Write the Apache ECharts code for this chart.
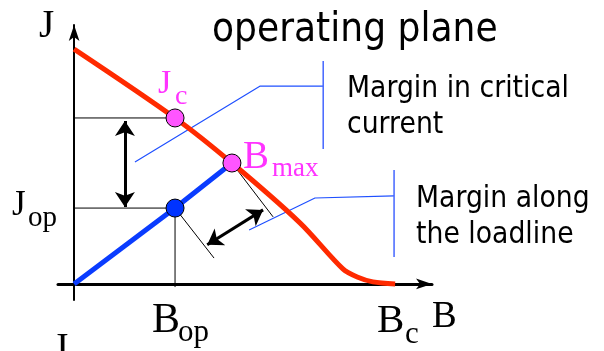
<!DOCTYPE html>
<html lang="en">
<head>
<meta charset="UTF-8">
<title>operating plane</title>
<script src="https://cdn.jsdelivr.net/npm/echarts@6/dist/echarts.min.js"></script>
<style>
  html, body { margin: 0; padding: 0; background: #fff; }
  #main { width: 604px; height: 351px; }
</style>
</head>
<body>
<div id="main"></div>
<script>
// values, B and J in arbitrary units (axis ~0..100)
var criticalCurve = [[0, 90.7], [28.2, 64.1], [44.1, 46.7], [63.1, 23.6],
                     [75.1, 5.8], [79.1, 2.7], [83.5, 0.8], [89.7, 0]];
var loadLine = [[0, 0], [28.2, 29.3], [44.1, 46.7]];
var pointJc = [28.2, 64.1];
var pointBmax = [44.1, 46.7];
var pointOp = [28.2, 29.3];

// guide lines
var jcLevel = [[0, 64.1], [28.2, 64.1]];
var opLevel = [[0, 29.3], [28.2, 29.3]];
var opDrop = [[28.2, 29.3], [28.2, -1.2]];
var bmaxPerp = [[44.1, 46.7], [55.6, 25.9]];
var opPerp = [[28.2, 29.3], [39.1, 10.0]];

// double arrows
var currentMargin = [[14.2, 62.9], [14.2, 29.7]];
var loadlineMargin = [[37.2, 15.1], [52.8, 28.6]];

// callouts
var callout1 = [[17.0, 47.1], [52.0, 76.4], [69.6, 76.4]];
var bracket1 = [[69.6, 86.1], [69.6, 52.1]];
var callout2 = [[48.9, 20.8], [67.3, 33.2], [89.4, 34.0]];
var bracket2 = [[89.4, 44.0], [89.4, 10.4]];

var RED = '#ff2a00', BLUE = '#0a3cff', THIN_BLUE = '#1f50ff', MAGENTA = '#ff33ff';
var SERIF = '"Liberation Serif", "DejaVu Serif", serif';
var SANS = '"DejaVu Sans", sans-serif';

var chart = echarts.init(document.getElementById('main'));

function poly(data, color, width, z) {
  return {
    type: 'line', data: data, showSymbol: false, symbol: 'none', silent: true,
    lineStyle: { color: color, width: width }, z: z || 2, animation: false
  };
}

function arrow(coords) {
  return {
    type: 'lines', coordinateSystem: 'cartesian2d', silent: true, animation: false,
    symbol: ['arrow', 'arrow'], symbolSize: 15,
    lineStyle: { color: '#000', width: 3, opacity: 1 },
    data: [{ coords: coords }], z: 3
  };
}

function dot(p, fill) {
  return {
    type: 'scatter', data: [p], symbolSize: 18, silent: true, animation: false,
    itemStyle: { color: fill, borderColor: '#000', borderWidth: 1, opacity: 1 }, z: 5
  };
}

// text placed by its baseline
function txt(s, x, base, size, family, color, sx) {
  return {
    type: 'text', x: x, y: base - 0.3 * size, scaleX: sx || 1, silent: true,
    style: {
      text: s, fill: color || '#000', font: size + 'px ' + family,
      textAlign: 'left', textVerticalAlign: 'middle', align: 'left', verticalAlign: 'middle'
    }
  };
}

var option = {
  animation: false,
  grid: { left: 58, right: 172, top: 25, bottom: 51 },
  xAxis: {
    type: 'value', min: -4.5, max: 100,
    axisLine: { onZero: true, lineStyle: { color: '#000', width: 3 },
                symbol: ['none', 'arrow'], symbolSize: [8, 16] },
    axisTick: { show: false }, axisLabel: { show: false }, splitLine: { show: false }
  },
  yAxis: {
    type: 'value', min: -6.2, max: 100,
    axisLine: { onZero: true, lineStyle: { color: '#000', width: 2 },
                symbol: ['none', 'arrow'], symbolSize: [8, 16] },
    axisTick: { show: false }, axisLabel: { show: false }, splitLine: { show: false }
  },
  series: [
    poly(jcLevel, '#000', 1),
    poly(opLevel, '#000', 1),
    poly(opDrop, '#000', 1),
    poly(bmaxPerp, '#000', 1),
    poly(opPerp, '#000', 1),
    poly(callout1, THIN_BLUE, 1.2),
    poly(bracket1, '#4466ff', 1.5),
    poly(callout2, THIN_BLUE, 1.2),
    poly(bracket2, '#4466ff', 1.5),
    Object.assign(poly(criticalCurve, RED, 5, 3), { smooth: 0.3 }),
    poly(loadLine, BLUE, 5, 3),
    arrow(currentMargin),
    arrow(loadlineMargin),
    dot(pointJc, '#ff55ff'),
    dot(pointBmax, '#ff55ff'),
    dot(pointOp, '#0033ff')
  ],
  graphic: [
    txt('J', 39, 38, 39, SERIF),
    txt('operating plane', 212, 43, 41, SANS, '#000', 0.88),
    txt('J', 158, 94, 34, SERIF, MAGENTA),
    txt('c', 175, 105, 28, SERIF, MAGENTA),
    txt('B', 243, 169, 39, SERIF, MAGENTA),
    txt('max', 272, 177, 27, SERIF, MAGENTA),
    txt('Margin in critical', 347, 98, 30, SANS, '#000', 0.89),
    txt('current', 347, 134, 30, SANS, '#000', 0.89),
    txt('Margin along', 416, 208, 30, SANS, '#000', 0.89),
    txt('the loadline', 416, 244, 30, SANS, '#000', 0.89),
    txt('J', 12, 216, 35, SERIF),
    txt('op', 28, 227, 29, SERIF),
    txt('B', 152, 334, 42, SERIF),
    txt('op', 178, 342, 31, SERIF),
    txt('B', 377, 334, 41, SERIF),
    txt('c', 405, 344, 31, SERIF),
    txt('B', 432, 328, 37, SERIF),
    txt('J', 53, 361, 39, SERIF)
  ]
};

chart.setOption(option);
</script>
</body>
</html>
